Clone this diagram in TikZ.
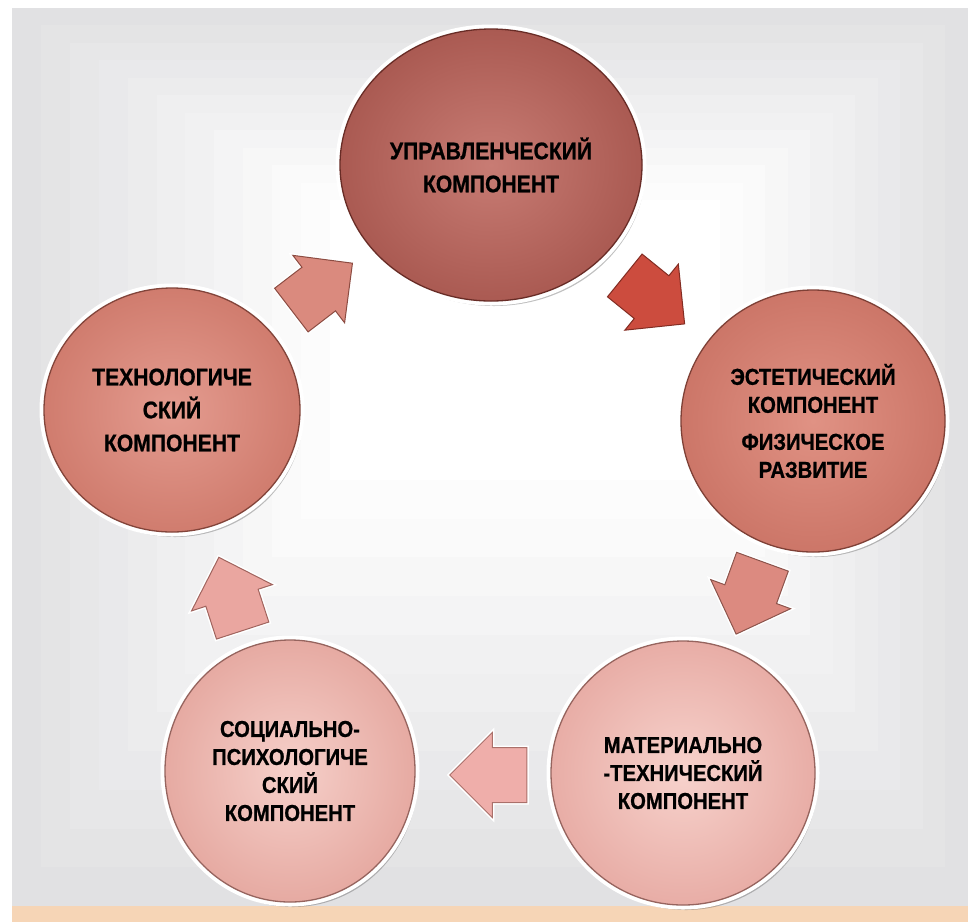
\documentclass[tikz,border=0pt]{standalone}
\usepackage{fontspec}
\newfontfamily\compfont{Liberation Sans}[FakeStretch=0.88, FakeBold=0.8]
\usetikzlibrary{shapes.geometric,shapes.arrows,shadows}
\definecolor{panel}{HTML}{E1E1E3}
\definecolor{strip}{HTML}{F6D5B6}
\begin{document}
\begin{tikzpicture}[x=1pt,y=-1pt,
  comp/.style={ellipse, align=center, text=black, inner sep=0pt,
    line width=1.3pt,
    drop shadow={shadow xshift=3pt, shadow yshift=-5pt, opacity=0.35, fill=black!70},
    preaction={draw=white, line width=9pt}},
  bigtxt/.style={font=\compfont\bfseries\fontsize{24}{33}\selectfont},
  smalltxt/.style={font=\compfont\bfseries\fontsize{23}{28}\selectfont},
  arrowbox/.style={single arrow, inner xsep=0pt, inner ysep=27pt,
    single arrow head extend=15pt, minimum height=77pt, line width=1pt,
    preaction={draw=white, line width=4pt}}
]
\useasboundingbox (0,0) rectangle (968,922);
\fill[white] (0,0) rectangle (968,922);
% background panel with stepped lighter centre
\foreach \i in {0,...,11}{
  \pgfmathsetmacro\xa{12+\i*(330-12)/11}
  \pgfmathsetmacro\ya{8+\i*(200-8)/11}
  \pgfmathsetmacro\xb{968-\i*(968-720)/11}
  \pgfmathsetmacro\yb{906-\i*(906-480)/11}
  \pgfmathsetmacro\p{\i*100/11}
  \fill[white!\p!panel] (\xa,\ya) rectangle (\xb,\yb);
}
\fill[strip] (12,906) rectangle (968,922);

% components
\node[comp, bigtxt, minimum width=302pt, minimum height=272pt,
  inner color={rgb,255:red,200;green,124;blue,116}, outer color={rgb,255:red,170;green,90;blue,82},
  draw={rgb,255:red,104;green,44;blue,38}] (upr) at (491,165)
  {УПРАВЛЕНЧЕСКИЙ\\КОМПОНЕНТ};
\node[comp, bigtxt, minimum width=256pt, minimum height=244pt,
  inner color={rgb,255:red,228;green,156;blue,144}, outer color={rgb,255:red,208;green,124;blue,110},
  draw={rgb,255:red,130;green,68;blue,58}] (tech) at (172,410)
  {ТЕХНОЛОГИЧЕ\\СКИЙ\\КОМПОНЕНТ};
\node[comp, smalltxt, minimum width=264pt, minimum height=262pt,
  inner color={rgb,255:red,224;green,146;blue,132}, outer color={rgb,255:red,204;green,118;blue,104},
  draw={rgb,255:red,126;green,64;blue,54}] (est) at (813,421)
  {ЭСТЕТИЧЕСКИЙ\\КОМПОНЕНТ\\[9pt]ФИЗИЧЕСКОЕ\\РАЗВИТИЕ};
\node[comp, smalltxt, minimum width=250pt, minimum height=262pt,
  inner color={rgb,255:red,246;green,208;blue,202}, outer color={rgb,255:red,230;green,170;blue,162},
  draw={rgb,255:red,150;green,100;blue,94}] (soc) at (290,771)
  {СОЦИАЛЬНО-\\ПСИХОЛОГИЧЕ\\СКИЙ\\КОМПОНЕНТ};
\node[comp, smalltxt, minimum width=264pt, minimum height=264pt,
  inner color={rgb,255:red,247;green,210;blue,204}, outer color={rgb,255:red,232;green,173;blue,166},
  draw={rgb,255:red,150;green,100;blue,94}] (mat) at (683,773)
  {МАТЕРИАЛЬНО\\-ТЕХНИЧЕСКИЙ\\КОМПОНЕНТ};

% block arrows
\node[arrowbox, rotate=37.5, fill={rgb,255:red,218;green,138;blue,126},
  draw={rgb,255:red,140;green,76;blue,66}] (a1) at (311,295) {};
\node[arrowbox, rotate=-39, fill={rgb,255:red,204;green,76;blue,62},
  draw={rgb,255:red,130;green,44;blue,34}] (a2) at (644,291) {};
\node[arrowbox, rotate=-110, fill={rgb,255:red,220;green,138;blue,128},
  draw={rgb,255:red,140;green,84;blue,76}] (a3) at (754,585) {};
\node[arrowbox, rotate=180, fill={rgb,255:red,239;green,174;blue,170},
  draw={rgb,255:red,170;green,112;blue,106}] (a4) at (502,775) {};
\node[arrowbox, rotate=108, fill={rgb,255:red,234;green,166;blue,160},
  draw={rgb,255:red,160;green,100;blue,94}] (a5) at (235,607) {};
\end{tikzpicture}
\end{document}
